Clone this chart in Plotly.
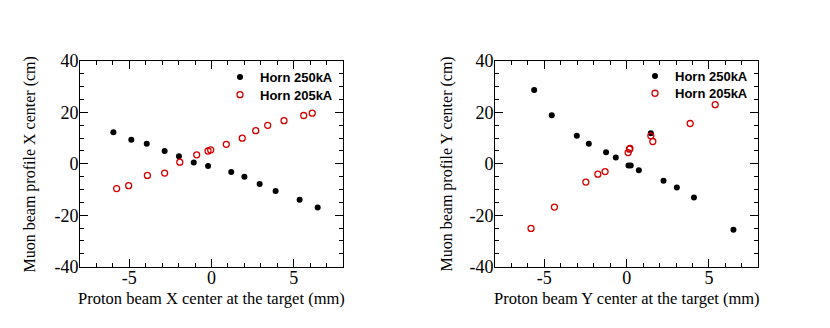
import plotly.graph_objects as go

W, H = 830, 328
OFF = 8  # page body margin in the browser

# ---------------- data ----------------
# Left panel: X direction
lx_250 = [-5.97, -4.88, -3.94, -2.85, -1.98, -1.08, -0.21, 1.20, 2.00, 2.93, 3.90, 5.36, 6.46]
ly_250 = [12.3, 9.4, 7.8, 5.0, 3.0, 0.5, -0.8, -3.2, -5.0, -7.8, -10.6, -14.0, -17.0]
lx_205 = [-5.77, -5.04, -3.90, -2.85, -1.93, -0.90, -0.21, -0.05, 0.90, 1.87, 2.69, 3.42, 4.41, 5.61, 6.13]
ly_205 = [-9.6, -8.5, -4.5, -3.6, 0.65, 3.5, 5.0, 5.4, 7.6, 10.0, 12.9, 15.0, 16.8, 18.8, 19.7]

# Right panel: Y direction
rx_250 = [-5.62, -4.55, -3.03, -2.30, -1.25, -0.66, 0.11, 0.25, 0.74, 1.47, 2.24, 3.05, 4.09, 6.49]
ry_250 = [28.7, 18.9, 10.9, 7.8, 4.5, 2.5, -0.6, -0.6, -2.5, 11.9, -6.6, -9.2, -13.1, -25.6]
rx_205 = [-5.81, -4.39, -2.48, -1.75, -1.31, 0.09, 0.17, 0.20, 1.47, 1.59, 3.86, 5.38]
ry_205 = [-25.1, -16.8, -7.1, -4.0, -3.0, 4.4, 5.7, 6.0, 10.9, 8.7, 15.7, 23.0]

series_names = ["Horn 250kA", "Horn 205kA"]

x_tickvals = [-5, 0, 5]
x_ticktext = ["-5", "0", "5"]
y_tickvals = [-40, -20, 0, 20, 40]
y_ticktext = ["-40", "-20", "0", "20", "40"]

x_titles = ["Proton beam X center at the target (mm)", "Proton beam Y center at the target (mm)"]
y_titles = ["Muon beam profile X center (cm)", "Muon beam profile Y center (cm)"]

# ---------------- layout helpers ----------------
def px_x(p):
    return (p - OFF) / W

def px_y(p):
    return 1 - (p - OFF) / H

panels = [
    dict(left=80, right=343),
    dict(left=495, right=758.3),
]
top, bottom = 61, 266.7

SERIF = "Liberation Serif, Times New Roman, serif"
SANS = "Liberation Sans, Arial, sans-serif"

fig = go.Figure()

data_sets = [
    (lx_250, ly_250, lx_205, ly_205),
    (rx_250, ry_250, rx_205, ry_205),
]

for i, (x1, y1, x2, y2) in enumerate(data_sets):
    xa = "x" if i == 0 else "x2"
    ya = "y" if i == 0 else "y2"
    fig.add_trace(go.Scatter(
        x=x1, y=y1, mode="markers", name=series_names[0],
        marker=dict(symbol="circle", size=6, color="black"),
        xaxis=xa, yaxis=ya, legend="legend" if i == 0 else "legend3",
    ))
    fig.add_trace(go.Scatter(
        x=x2, y=y2, mode="markers", name=series_names[1],
        marker=dict(symbol="circle-open", size=6, color="#d40000", line=dict(width=1.3, color="#d40000")),
        xaxis=xa, yaxis=ya, legend="legend2" if i == 0 else "legend4",
    ))

axis_common = dict(
    showline=True, linecolor="black", linewidth=1, mirror="allticks",
    ticks="inside", tickcolor="black", tickwidth=1, ticklen=8,
    showgrid=False, zeroline=False, automargin=False,
    tickfont=dict(family=SERIF, size=18, color="black"),
)

layout = dict(
    width=W, height=H,
    margin=dict(l=0, r=0, t=0, b=0, autoexpand=False),
    paper_bgcolor="white", plot_bgcolor="white",
    showlegend=True,
)

for i, p in enumerate(panels):
    sfx = "" if i == 0 else "2"
    layout["xaxis" + sfx] = dict(
        axis_common,
        domain=[px_x(p["left"]), px_x(p["right"])],
        range=[-8, 8],
        tickvals=x_tickvals, ticktext=x_ticktext,
        ticklabelstandoff=-5,
        minor=dict(ticks="inside", dtick=1, ticklen=4, tickcolor="black", showgrid=False),
        anchor="y" + sfx,
    )
    layout["yaxis" + sfx] = dict(
        axis_common,
        domain=[px_y(bottom), px_y(top)],
        range=[-40, 40],
        tickvals=y_tickvals, ticktext=y_ticktext,
        ticklabelstandoff=-3,
        minor=dict(ticks="inside", dtick=5, tick0=0, ticklen=4, tickcolor="black", showgrid=False),
        anchor="x" + sfx,
    )

legend_common = dict(
    font=dict(family=SANS, size=13, color="black", weight="bold"),
    bgcolor="rgba(0,0,0,0)", borderwidth=0,
    xanchor="left", yanchor="top", tracegroupgap=0,
    itemwidth=30,
)
# one legend per entry, so each row can be placed exactly
legend_pos = [(220, 62), (220, 79.7), (635, 61), (635, 78.3)]
for k, (lx, ly) in enumerate(legend_pos):
    name = "legend" if k == 0 else "legend%d" % (k + 1)
    layout[name] = dict(legend_common, x=px_x(lx), y=px_y(ly))

annotations = []
for i, p in enumerate(panels):
    cx = (p["left"] + p["right"]) / 2
    annotations.append(dict(
        text=x_titles[i], xref="paper", yref="paper",
        x=px_x(cx), y=px_y(298.5), xanchor="center", yanchor="middle",
        showarrow=False, font=dict(family=SERIF, size=16.5, color="black"),
    ))
ytitle_x = [29.5, 446]
for i, p in enumerate(panels):
    annotations.append(dict(
        text=y_titles[i], xref="paper", yref="paper", textangle=-90,
        x=px_x(ytitle_x[i]), y=px_y(55), xanchor="center", yanchor="top",
        showarrow=False, font=dict(family=SERIF, size=16, color="black"),
    ))
layout["annotations"] = annotations

fig.update_layout(**layout)
fig.write_html("out.html")
